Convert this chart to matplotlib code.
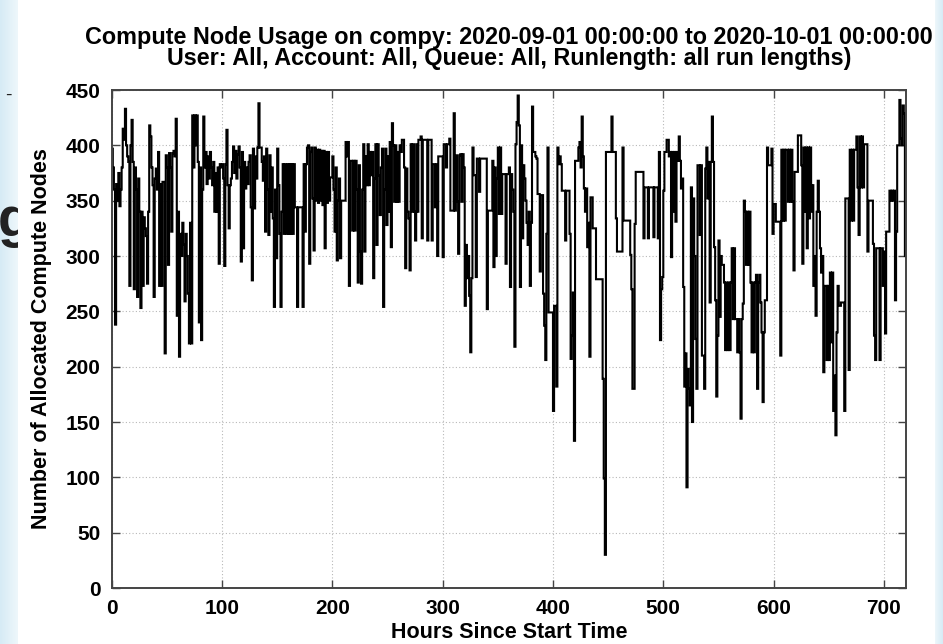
import numpy as np
import matplotlib
matplotlib.use("Agg")
import matplotlib.pyplot as plt
from matplotlib.colors import LinearSegmentedColormap

# Hourly allocated compute nodes, hours 0..719
nodes = [
    397, 380, 360, 238, 365, 350, 375, 345, 360, 380, 415, 405, 433, 400, 390, 385, 273, 400, 423, 385,
    270, 380, 360, 263, 370, 340, 253, 340, 273, 335, 325, 318, 275, 340, 418, 408, 380, 364, 263, 370,
    379, 360, 394, 273, 365, 273, 367, 367, 212, 391, 380, 292, 393, 380, 322, 393, 395, 390, 424, 246,
    340, 209, 320, 300, 330, 310, 259, 320, 300, 266, 221, 330, 221, 427, 380, 427, 400, 427, 385, 240,
    380, 224, 360, 426, 380, 394, 365, 390, 370, 394, 380, 364, 385, 340, 375, 340, 380, 293, 383, 380,
    383, 370, 291, 383, 414, 364, 325, 364, 370, 385, 399, 375, 395, 370, 392, 399, 380, 295, 394, 307,
    385, 361, 380, 365, 385, 391, 344, 278, 397, 343, 390, 370, 398, 438, 398, 398, 385, 368, 390, 322,
    397, 360, 319, 391, 340, 380, 334, 254, 360, 298, 397, 364, 320, 254, 340, 383, 320, 383, 320, 383,
    320, 383, 320, 383, 320, 383, 344, 344, 254, 344, 344, 344, 344, 254, 383, 322, 383, 398, 400, 293,
    394, 398, 352, 305, 398, 350, 396, 348, 396, 350, 395, 346, 395, 307, 394, 348, 394, 350, 371, 371,
    390, 360, 322, 380, 296, 350, 370, 298, 350, 350, 350, 350, 403, 390, 403, 273, 386, 386, 323, 386,
    323, 386, 360, 276, 382, 304, 275, 360, 401, 304, 390, 364, 401, 364, 394, 373, 394, 280, 370, 401,
    310, 401, 373, 337, 380, 397, 254, 360, 397, 328, 390, 340, 403, 308, 420, 400, 349, 400, 349, 394,
    349, 400, 394, 405, 405, 380, 289, 379, 340, 334, 287, 401, 340, 401, 340, 314, 401, 340, 405, 405,
    408, 316, 405, 405, 405, 405, 314, 405, 405, 405, 314, 383, 383, 344, 383, 300, 390, 390, 390, 390,
    299, 401, 401, 380, 401, 401, 406, 341, 341, 341, 429, 341, 391, 349, 302, 391, 392, 349, 392, 380,
    255, 310, 280, 300, 264, 213, 280, 398, 373, 373, 281, 388, 388, 358, 388, 388, 388, 388, 388, 388,
    252, 341, 341, 341, 341, 386, 290, 380, 300, 370, 398, 338, 398, 338, 374, 374, 374, 293, 374, 374,
    380, 272, 374, 360, 340, 218, 401, 421, 445, 418, 272, 400, 316, 382, 370, 350, 330, 310, 340, 273,
    330, 435, 394, 394, 390, 388, 356, 356, 286, 355, 355, 266, 237, 206, 320, 398, 249, 249, 249, 249,
    160, 255, 255, 182, 398, 383, 390, 383, 359, 359, 359, 314, 359, 359, 359, 320, 207, 228, 267, 133,
    386, 386, 386, 398, 403, 380, 426, 390, 361, 340, 361, 308, 330, 209, 353, 353, 325, 325, 325, 279,
    279, 279, 279, 279, 279, 189, 99, 30, 394, 394, 394, 394, 394, 426, 394, 394, 394, 334, 304, 304,
    304, 304, 304, 398, 332, 332, 332, 332, 332, 332, 301, 270, 180, 180, 329, 376, 376, 376, 376, 376,
    376, 376, 316, 362, 362, 362, 316, 362, 362, 362, 362, 317, 362, 362, 362, 316, 394, 224, 270, 281,
    359, 394, 394, 405, 405, 390, 394, 299, 394, 340, 394, 331, 394, 386, 408, 386, 361, 370, 272, 182,
    212, 91, 198, 180, 165, 362, 150, 352, 300, 225, 180, 382, 382, 319, 382, 210, 210, 180, 379, 398,
    352, 385, 258, 385, 426, 385, 308, 260, 173, 228, 314, 245, 300, 292, 292, 276, 215, 276, 215, 276,
    215, 276, 307, 243, 307, 243, 243, 213, 243, 213, 153, 243, 257, 350, 340, 292, 340, 292, 340, 276,
    213, 276, 213, 276, 283, 180, 276, 283, 258, 231, 168, 231, 260, 260, 398, 382, 382, 382, 397, 320,
    347, 347, 331, 331, 331, 331, 210, 396, 332, 396, 332, 396, 396, 349, 396, 349, 396, 349, 287, 376,
    376, 376, 409, 409, 409, 382, 293, 398, 340, 398, 307, 398, 334, 398, 340, 364, 273, 300, 246, 340,
    368, 340, 307, 285, 300, 195, 273, 273, 206, 273, 206, 285, 222, 285, 160, 192, 138, 231, 273, 255,
    255, 258, 258, 258, 160, 352, 352, 352, 197, 396, 332, 396, 332, 396, 396, 408, 362, 319, 408, 362,
    408, 362, 401, 401, 401, 304, 350, 350, 350, 350, 311, 228, 206, 307, 307, 307, 206, 307, 307, 273,
    304, 230, 322, 322, 322, 359, 350, 359, 350, 359, 260, 322, 400, 400, 441, 406, 400, 436, 429, 300,
]

x_ticks = [0, 100, 200, 300, 400, 500, 600, 700]
y_ticks = [0, 50, 100, 150, 200, 250, 300, 350, 400, 450]

title_lines = [
    "Compute Node Usage on compy: 2020-09-01 00:00:00 to 2020-10-01 00:00:00",
    "User: All, Account: All, Queue: All, Runlength: all run lengths)",
]
x_label = "Hours Since Start Time"
y_label = "Number of Allocated Compute Nodes"

plt.rcParams['font.family'] = ['Liberation Sans', 'DejaVu Sans']

W, H = 943, 644
fig = plt.figure(figsize=(W / 100, H / 100), dpi=100)
fig.patch.set_facecolor('white')

# light-blue slide background at the edges
cmap_l = LinearSegmentedColormap.from_list('l', ['#d6ebf5', '#eef7fb'])
bg_l = fig.add_axes([0, 0, 18 / W, 1])
bg_l.imshow(np.linspace(0, 1, 50).reshape(1, -1), aspect='auto', cmap=cmap_l,
            extent=(0, 1, 0, 1))
bg_l.set_xlim(0, 1)
bg_l.set_ylim(0, 1)
bg_l.axis('off')
# slide text fragments peeking in at the left edge
bg_l.text(-0.15, 1 - 222 / H, "g", fontsize=40, fontweight='bold', color='#222222',
          ha='left', va='center', clip_on=True, transform=bg_l.transAxes)
bg_l.text(0.3, 1 - 95 / H, "-", fontsize=14, color='#222222', ha='left', va='center',
          clip_on=True, transform=bg_l.transAxes)
bg_r = fig.add_axes([935 / W, 0, 8 / W, 1])
bg_r.imshow(np.linspace(0, 1, 50).reshape(1, -1), aspect='auto',
            cmap=LinearSegmentedColormap.from_list('r', ['#eef7fb', '#d6ebf5']))
bg_r.axis('off')

left, right = 111.7 / W, 906 / W
bottom, top = 1 - 588 / H, 1 - 90 / H
ax = fig.add_axes([left, bottom, right - left, top - bottom])

edges = np.arange(len(nodes) + 1)
ax.stairs(nodes, edges, baseline=None, color='black', linewidth=1.5)

ax.set_xlim(0, 720)
ax.set_ylim(0, 450)
ax.set_xticks(x_ticks)
ax.set_yticks(y_ticks)
ax.grid(True, color='#b8b8b8', linestyle=(0, (1, 2)), linewidth=0.8)
ax.set_axisbelow(True)
ax.tick_params(direction='in', length=6, width=1.0, top=True, right=True,
               labelsize=15, pad=8, color='#444444')
for lab in ax.get_xticklabels() + ax.get_yticklabels():
    lab.set_fontweight('bold')
for sp in ax.spines.values():
    sp.set_color('#444444')
    sp.set_linewidth(1.4)

ax.set_ylabel(y_label, fontsize=15.5, fontweight='bold', labelpad=10)
fig.text((left + right) / 2, 1 - 638 / H, x_label, fontsize=15.5,
         fontweight='bold', ha='center', va='baseline')

fig.text((left + right) / 2, 1 - 44 / H, title_lines[0], fontsize=16.8,
         fontweight='bold', ha='center', va='baseline')
fig.text((left + right) / 2, 1 - 65 / H, title_lines[1], fontsize=16.8,
         fontweight='bold', ha='center', va='baseline')

fig.savefig('out.png', dpi=100)
